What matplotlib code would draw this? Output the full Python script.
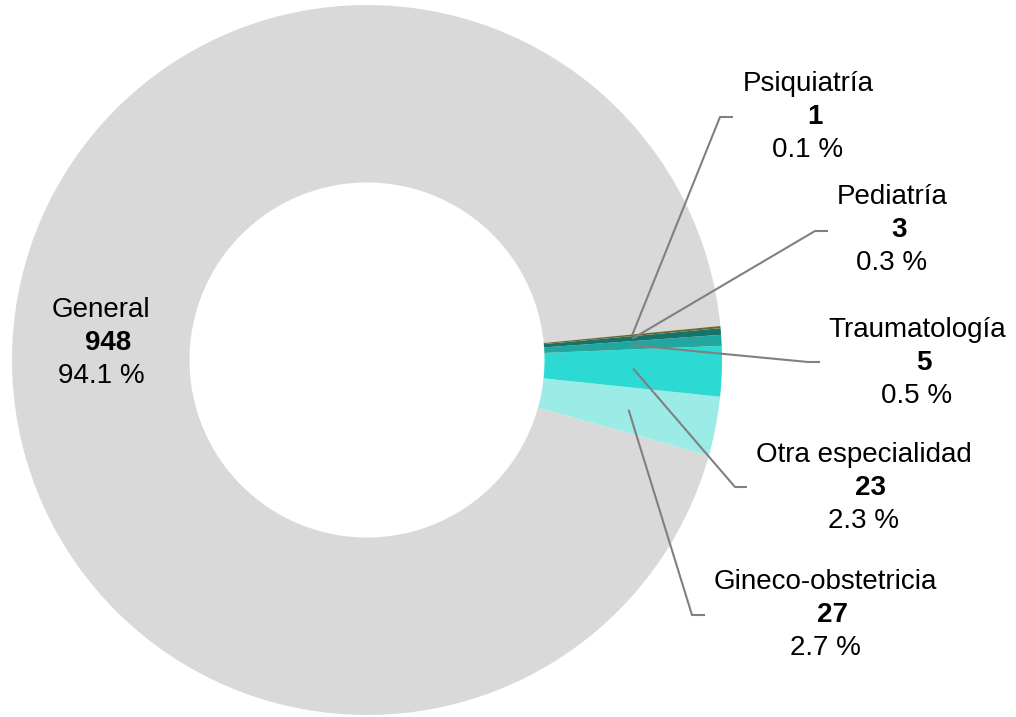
import matplotlib
matplotlib.use("Agg")
import matplotlib.pyplot as plt
import numpy as np

plt.rcParams['font.family'] = ['Liberation Sans', 'DejaVu Sans']

categories = ["General", "Gineco-obstetricia", "Otra especialidad", "Traumatología", "Pediatría", "Psiquiatría"]
values = [948, 27, 23, 5, 3, 1]
percents = ["94.1 %", "2.7 %", "2.3 %", "0.5 %", "0.3 %", "0.1 %"]
colors = ["#d9d9d9", "#9becE7", "#2dd9d3", "#21a79f", "#16736c", "#6b6a2c"]

W, H = 1016, 717
fig = plt.figure(figsize=(W / 100, H / 100), dpi=100)
ax = fig.add_axes([0, 0, 1, 1])

cx, cy = 367, H - 360
R = 355
wedges, _ = ax.pie(values, colors=colors, startangle=5.5, counterclock=True,
                   center=(cx, cy), radius=R, frame=True,
                   wedgeprops=dict(width=R * 0.5, linewidth=0))
ax.set_xlim(0, W)
ax.set_ylim(0, H)
ax.set_aspect('equal')
ax.axis('off')

# label layout: (text center x, middle-line y in px from top, elbow x, end x, line y)
layout = {
    "General": (101, 343, None, None, None),
    "Gineco-obstetricia": (825, 615, 692, 705, 615),
    "Otra especialidad": (864, 488, 735, 747, 487),
    "Traumatología": (917, 363, 808, 820, 362),
    "Pediatría": (892, 230, 815, 828, 231),
    "Psiquiatría": (808, 117, 720, 733, 117),
}

fs = 20
lh = 33
for w, cat, v, p in zip(wedges, categories, values, percents):
    tx, ty, ex, endx, ly = layout[cat]
    yc = H - ty
    ax.text(tx, yc + lh, cat, ha='center', va='center', fontsize=fs, color='black')
    ax.text(tx + 7, yc, str(v), ha='center', va='center', fontsize=fs, fontweight='bold', color='black')
    ax.text(tx, yc - lh, p, ha='center', va='center', fontsize=fs, color='black')
    if ex is not None:
        ang = np.deg2rad((w.theta1 + w.theta2) / 2)
        r0 = R * 0.75
        x0 = cx + r0 * np.cos(ang)
        y0 = cy + r0 * np.sin(ang)
        ax.plot([x0, ex, endx], [y0, H - ly, H - ly], color='#808080', lw=1.5,
                solid_capstyle='butt')

fig.savefig("out.png", dpi=100)
